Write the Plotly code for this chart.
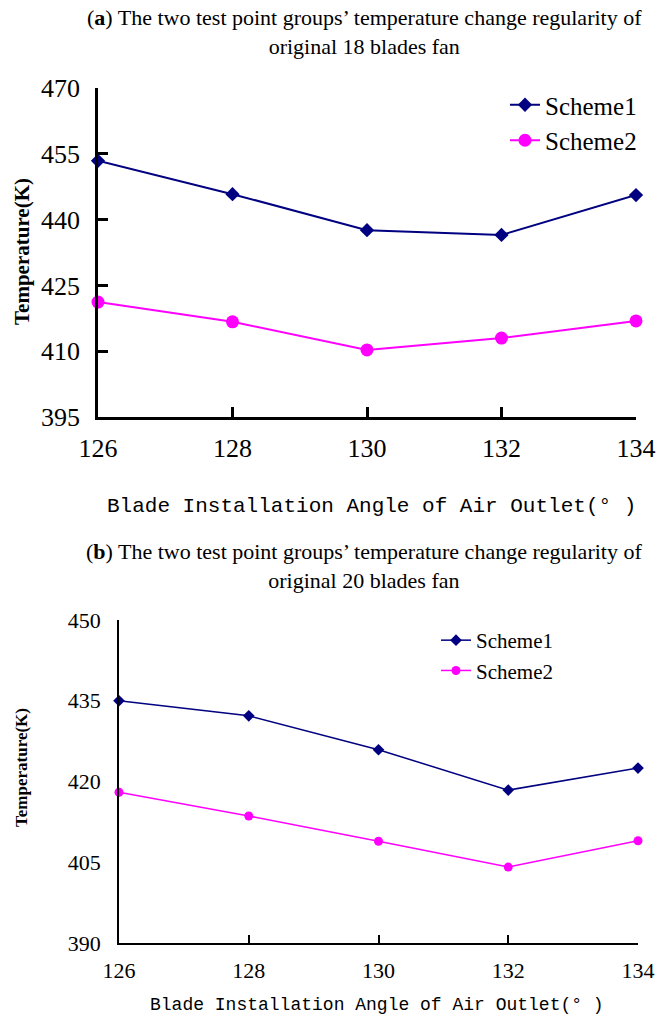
import plotly.graph_objects as go

# Blade outlet installation angle (degrees)
angles = [126, 128, 130, 132, 134]

# (a) original 18-blade fan, temperature (K)
a_scheme1 = [453.4, 445.8, 437.6, 436.5, 445.6]
a_scheme2 = [421.2, 416.7, 410.3, 413.0, 416.9]

# (b) original 20-blade fan, temperature (K)
b_scheme1 = [435.0, 432.2, 425.9, 418.4, 422.5]
b_scheme2 = [418.0, 413.6, 408.9, 404.1, 409.0]

a_yticks = [395, 410, 425, 440, 455, 470]
b_yticks = [390, 405, 420, 435, 450]

NAVY = "#000080"
MAGENTA = "#FF00FF"
SERIF = "Liberation Serif, DejaVu Serif, serif"
MONO = "Liberation Mono, DejaVu Sans Mono, monospace"
W, H = 658, 1021


def px_x(v):
    return v / W


def px_y(v):
    return 1 - v / H


fig = go.Figure()

fig.add_trace(go.Scatter(x=angles, y=a_scheme1, name="Scheme1", mode="lines+markers",
                         line=dict(color=NAVY, width=2),
                         marker=dict(symbol="diamond", size=11, color=NAVY),
                         xaxis="x", yaxis="y", legend="legend", cliponaxis=False))
fig.add_trace(go.Scatter(x=angles, y=a_scheme2, name="Scheme2", mode="lines+markers",
                         line=dict(color=MAGENTA, width=2),
                         marker=dict(symbol="circle", size=13, color=MAGENTA),
                         xaxis="x", yaxis="y", legend="legend", cliponaxis=False))
fig.add_trace(go.Scatter(x=angles, y=b_scheme1, name="Scheme1", mode="lines+markers",
                         line=dict(color=NAVY, width=1.5),
                         marker=dict(symbol="diamond", size=9, color=NAVY),
                         xaxis="x2", yaxis="y2", legend="legend2", cliponaxis=False))
fig.add_trace(go.Scatter(x=angles, y=b_scheme2, name="Scheme2", mode="lines+markers",
                         line=dict(color=MAGENTA, width=1.5),
                         marker=dict(symbol="circle", size=9, color=MAGENTA),
                         xaxis="x2", yaxis="y2", legend="legend2", cliponaxis=False))

axis_base = dict(showgrid=False, zeroline=False, showline=True, linecolor="black",
                 automargin=False, tickcolor="black")

fig.update_layout(
    width=W, height=H, margin=dict(l=0, r=0, t=0, b=0),
    paper_bgcolor="white", plot_bgcolor="white", showlegend=True,
    xaxis=dict(**axis_base, domain=[px_x(98), px_x(636)], anchor="y",
               range=[126, 134], tickvals=angles,
               linewidth=2.5, ticks="inside", ticklen=10, tickwidth=2.5,
               ticklabelstandoff=6,
               tickfont=dict(family=SERIF, size=26, color="black")),
    yaxis=dict(**axis_base, domain=[px_y(417), px_y(88)], anchor="x",
               range=[395, 470], tickvals=a_yticks, linewidth=2.5,
               ticks="inside", ticklen=10, tickwidth=2.5, ticklabelstandoff=10,
               tickfont=dict(family=SERIF, size=26, color="black")),
    xaxis2=dict(**axis_base, domain=[px_x(119), px_x(638)], anchor="y2",
                range=[126, 134], tickvals=angles,
                linewidth=2, ticks="inside", ticklen=8, tickwidth=2,
                ticklabelstandoff=7,
                tickfont=dict(family=SERIF, size=22, color="black")),
    yaxis2=dict(**axis_base, domain=[px_y(943), px_y(620)], anchor="x2",
                range=[390, 450], tickvals=b_yticks, linewidth=1.5, ticks="",
                ticklabelstandoff=12,
                tickfont=dict(family=SERIF, size=22, color="black")),
    legend=dict(x=px_x(505), y=px_y(82), xanchor="left", yanchor="top",
                bgcolor="rgba(0,0,0,0)", font=dict(family=SERIF, size=25, color="black"),
                itemwidth=30, tracegroupgap=0),
    legend2=dict(x=px_x(436), y=px_y(620), xanchor="left", yanchor="top",
                 bgcolor="rgba(0,0,0,0)", font=dict(family=SERIF, size=21, color="black"),
                 itemwidth=30, tracegroupgap=0),
)

# Panel titles
title_font = dict(family=SERIF, size=22, color="black")
fig.add_annotation(text="(<b>a</b>) The two test point groups’ temperature change regularity of<br>original 18 blades fan",
                   x=px_x(364), y=px_y(3), xref="paper", yref="paper", xanchor="center",
                   yanchor="top", showarrow=False, font=title_font, align="center")
fig.add_annotation(text="(<b>b</b>) The two test point groups’ temperature change regularity of<br>original 20 blades fan",
                   x=px_x(364), y=px_y(537), xref="paper", yref="paper", xanchor="center",
                   yanchor="top", showarrow=False, font=title_font, align="center")

# Axis titles
xlabel = "Blade Installation Angle of Air Outlet(° )"
ylabel = "<b>Temperature(K)</b>"
fig.add_annotation(text=xlabel, x=px_x(371), y=px_y(506), xref="paper", yref="paper",
                   xanchor="center", yanchor="middle", showarrow=False,
                   font=dict(family=MONO, size=21, color="black"))
fig.add_annotation(text=xlabel, x=px_x(377), y=px_y(1005), xref="paper", yref="paper",
                   xanchor="center", yanchor="middle", showarrow=False,
                   font=dict(family=MONO, size=18, color="black"))
fig.add_annotation(text=ylabel, x=px_x(22), y=px_y(252), xref="paper", yref="paper",
                   xanchor="center", yanchor="middle", showarrow=False, textangle=-90,
                   font=dict(family=SERIF, size=21, color="black"))
fig.add_annotation(text=ylabel, x=px_x(21), y=px_y(768), xref="paper", yref="paper",
                   xanchor="center", yanchor="middle", showarrow=False, textangle=-90,
                   font=dict(family=SERIF, size=17, color="black"))

fig.write_html("out.html")
